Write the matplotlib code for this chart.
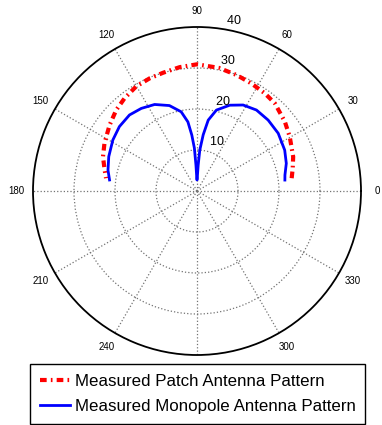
import numpy as np
import matplotlib.pyplot as plt

plt.rcParams['font.family'] = ['Liberation Sans', 'DejaVu Sans']

# measured patterns (angle in degrees, magnitude)
patch_deg = [7.7, 13.4, 19.6, 30.3, 38.3, 48.4, 55.2, 63.2, 71.2, 80, 90,
             98, 106.1, 112.9, 120.2, 128, 134.9, 143, 152.7, 160, 167.2, 172]
patch_r = [23.3, 24.0, 24.9, 26.2, 27.3, 28.6, 29.0, 29.4, 29.9, 30.5, 30.9,
           30.5, 30.0, 29.8, 29.5, 28.7, 27.9, 26.7, 25.4, 24.4, 23.1, 22.4]

mono_deg = [7.1, 10.3, 17.2, 25, 35.4, 44.9, 53.7, 61.8, 69.1, 76.5, 81, 83.7, 86.1, 87.4, 89.5,
            90.5, 92.3, 93.5, 95.3, 97.5, 101.3, 107.9, 116.1, 124, 131.6, 140.3, 148.8,
            158.7, 166.8, 172.8]
mono_r = [21.6, 21.8, 22.8, 23.6, 24.3, 24.5, 24.5, 23.8, 22.4, 20.3, 17.5, 13.8, 10.0, 6.3, 2.7,
          2.7, 6.3, 10.5, 13.7, 17.0, 19.7, 21.9, 23.5, 24.3, 24.8, 24.6, 24.0,
          23.1, 22.3, 21.5]

angle_ticks = [0, 30, 60, 90, 120, 150, 180, 210, 240, 270, 300, 330]
# 270 sits under the legend box in the original, so it isn't written
angle_labels = [0, 30, 60, 90, 120, 150, 180, 210, 240, 300, 330]
radial_ticks = [10, 20, 30, 40]
rmax = 40

fig = plt.figure(figsize=(3.82, 4.25), dpi=100)
ax = fig.add_axes([33 / 382, 70 / 425, 328 / 382, 328 / 425], projection='polar')

ax.plot(np.deg2rad(patch_deg), patch_r, color='red', lw=3,
        dashes=(1.6, 1.0, 0.4, 1.0), label='Measured Patch Antenna Pattern')
ax.plot(np.deg2rad(mono_deg), mono_r, color='blue', lw=2,
        label='Measured Monopole Antenna Pattern')

ax.set_ylim(0, rmax)
ax.set_thetagrids(angle_ticks, labels=[''] * len(angle_ticks))
ax.set_rgrids(radial_ticks[:-1], labels=[''] * 3)
ax.grid(True, color='0.45', linestyle=':', linewidth=0.9)
ax.spines['polar'].set_linewidth(1.3)
ax.spines['polar'].set_color('black')

# matlab style labels
for a in angle_labels:
    ax.text(np.deg2rad(a), 1.1 * rmax, str(a), ha='center', va='center', fontsize=7)
for r in radial_ticks:
    ax.text(np.deg2rad(82), r + 0.5, '  ' + str(r), ha='left', va='bottom', fontsize=9)

leg = fig.legend(loc='lower left', bbox_to_anchor=(30 / 382, 1 / 425), borderaxespad=0,
                 fontsize=12.2, fancybox=False, edgecolor='black', framealpha=1,
                 handlelength=1.8, handletextpad=0.25, borderpad=0.58, labelspacing=0.62)
leg.get_frame().set_linewidth(1.0)
leg.set_zorder(10)

fig.savefig('out.png', dpi=100)
